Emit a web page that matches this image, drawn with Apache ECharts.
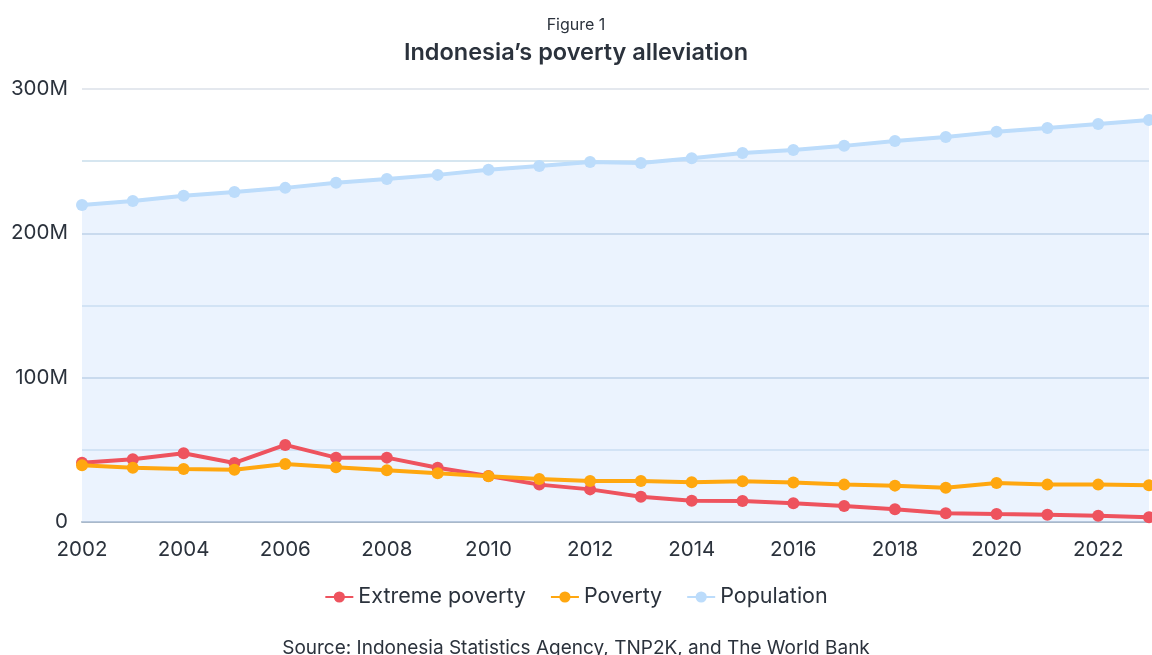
<!DOCTYPE html>
<html><head><meta charset="utf-8">
<script src="https://cdn.jsdelivr.net/npm/echarts@6/dist/echarts.min.js"></script>
<style>html,body{margin:0;padding:0;background:#fff}#c{width:1152px;height:655px}</style>
</head><body><div id="c"></div>
<script>
var years = ['2002','2003','2004','2005','2006','2007','2008','2009','2010','2011','2012','2013','2014','2015','2016','2017','2018','2019','2020','2021','2022','2023'];
var extremePoverty = [41, 43.4, 47.6, 40.9, 53.4, 44.6, 44.6, 37.6, 31.9, 25.9, 22.6, 17.5, 14.8, 14.6, 13, 11.1, 8.8, 6, 5.5, 5.1, 4.4, 3.3];
var poverty = [39.3, 37.6, 36.7, 36.2, 40.2, 37.9, 35.9, 33.7, 31.7, 29.8, 28.4, 28.4, 27.5, 28.2, 27.3, 25.9, 25.2, 23.8, 27.1, 25.9, 25.9, 25.4];
var population = [219.7, 222.4, 226, 228.7, 231.5, 235, 237.7, 240.5, 244, 246.7, 249.5, 248.8, 252, 255.7, 257.8, 260.6, 264, 266.8, 270.3, 273, 275.8, 278.6];
var yTicks = {0:'0',100:'100M',200:'200M',300:'300M'};

var txt = '#2b323c';
var font = 'Inter, "Open Sans", sans-serif';
var chart = echarts.init(document.getElementById('c'), null, {renderer:'canvas'});
chart.setOption({
  animation:false,
  textStyle:{fontFamily:font},
  title:[
    {text:'Figure 1', left:'center', top:12, textStyle:{fontFamily:font, fontSize:16, fontWeight:'normal', color:txt}},
    {text:'Indonesia\u2019s poverty alleviation', left:'center', top:36, textStyle:{fontFamily:font, fontSize:23.5, fontWeight:600, color:txt}},
    {text:'Source: Indonesia Statistics Agency, TNP2K, and The World Bank', left:'center', top:634, textStyle:{fontFamily:font, fontSize:19, fontWeight:'normal', color:txt}}
  ],
  legend:{
    bottom:42, left:'center', itemWidth:28, itemHeight:14, itemGap:24,
    textStyle:{fontFamily:font, fontSize:21.5, color:txt},
    data:['Extreme poverty','Poverty','Population']
  },
  grid:{left:82, right:3, top:89, bottom:133, containLabel:false},
  xAxis:{
    type:'category', data:years, boundaryGap:false,
    axisLine:{show:true, lineStyle:{color:'#a9b8c9', width:2}},
    axisTick:{show:false},
    axisLabel:{interval:1, color:txt, fontSize:20.5, margin:17, fontFamily:font},
    splitLine:{show:false}
  },
  yAxis:{
    type:'value', min:0, max:300, interval:50,
    axisLine:{show:false}, axisTick:{show:false},
    axisLabel:{color:txt, fontSize:20.5, margin:14, fontFamily:font, formatter:function(v){return yTicks[v]!==undefined?yTicks[v]:'';}},
    splitLine:{show:true, lineStyle:{width:2, color:['#c8d7e6','#d6e6f0','#c8d7e6','#d6e6f0','#c8d7e6','#d6e6f0','#e4e8ee']}}
  },
  series:[
    {name:'Population', type:'line', data:population, z:1,
      symbol:'circle', symbolSize:12, showSymbol:true,
      lineStyle:{color:'#bcdcfb', width:4},
      itemStyle:{color:'#bcdcfb'},
      areaStyle:{color:'rgba(204,225,252,0.55)', origin:'start'}},
    {name:'Poverty', type:'line', data:poverty, z:3,
      symbol:'circle', symbolSize:12,
      lineStyle:{color:'#ffa70f', width:4},
      itemStyle:{color:'#ffa70f'}},
    {name:'Extreme poverty', type:'line', data:extremePoverty, z:2,
      symbol:'circle', symbolSize:12,
      lineStyle:{color:'#ee535e', width:4},
      itemStyle:{color:'#ee535e'}}
  ]
});
</script></body></html>
